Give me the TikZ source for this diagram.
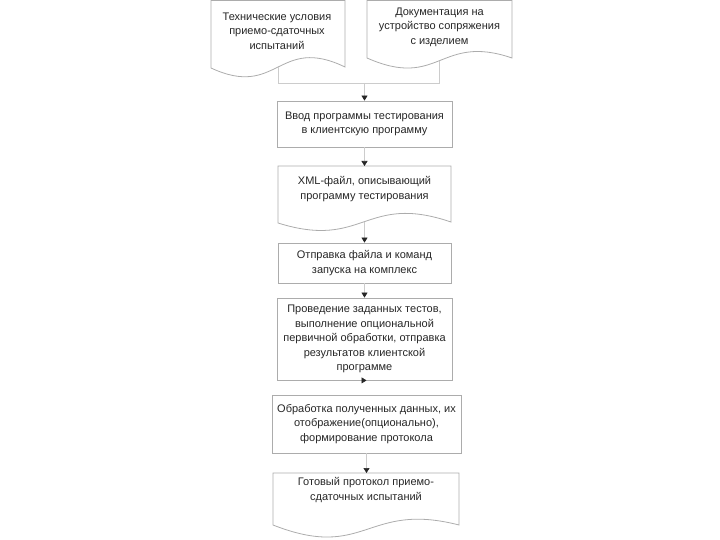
\documentclass[tikz,border=0pt]{standalone}
\usepackage{fontspec}
\setmainfont{Liberation Sans}
\usetikzlibrary{arrows.meta,calc}
\begin{document}
\begin{tikzpicture}[x=1pt,y=-1pt,
  shapeline/.style={draw=gray!65, line width=0.8pt},
  lbl/.style={font=\fontsize{11}{14.5}\selectfont, text=black!85, align=center, inner sep=0pt},
  procbox/.style={lbl, shapeline, rectangle},
  conn/.style={draw=gray!40, line width=0.6pt},
  arr/.style={conn, -{Triangle[width=6pt,length=5pt,color=black!85]}}
]
\useasboundingbox (0,0) rectangle (720,540);

% documents (top)
\draw[shapeline] (211,0.5) -- (345,0.5) -- (345,67) .. controls (278,34.6) and (278,99.2) .. (211,68) -- cycle;
\node[lbl] (tu) at (277,31) {Технические условия\\приемо-сдаточных\\испытаний};
\draw[shapeline] (367,0.5) -- (512,0.5) -- (512,58) .. controls (439.5,33.1) and (439.5,90) .. (367,58) -- cycle;
\node[lbl] (doc) at (439.5,27) {Документация на\\устройство сопряжения\\с изделием};
\coordinate (tuout) at (278,67);
\coordinate (docout) at (439.5,60.7);
\coordinate (join) at (364.5,83);

% boxes
\node[procbox, minimum width=175pt, minimum height=46pt] (b1) at (364.5,124) {Ввод программы тестирования\\в клиентскую программу};

\draw[shapeline] (278,166) -- (451,166) -- (451,222) .. controls (364.5,192.6) and (364.5,250.1) .. (278,223) -- cycle;
\node[lbl] (xml) at (364.5,189) {XML-файл, описывающий\\программу тестирования};
\coordinate (xmlin) at (364.5,166);
\coordinate (xmlout) at (364.5,221.8);

\node[procbox, minimum width=173pt, minimum height=40pt] (b3) at (364.5,263) {Отправка файла и команд\\запуска на комплекс};
\node[procbox, minimum width=175pt, minimum height=82pt] (b4) at (364.5,339) {Проведение заданных тестов,\\выполнение опциональной\\первичной обработки, отправка\\результатов клиентской\\программе};
\node[procbox, minimum width=189pt, minimum height=58pt] (b5) at (366.5,424) {Обработка полученных данных, их\\отображение(опционально),\\формирование протокола};

\draw[shapeline] (273,473) -- (459,473) -- (459,525) .. controls (366,501) and (366,561.5) .. (273,525) -- cycle;
\node[lbl] (fin) at (366,490) {Готовый протокол приемо-\\сдаточных испытаний};
\coordinate (finin) at (366.5,473);

% connectors
\draw[conn] (tuout) -- (tuout |- join) -- (docout |- join) -- (docout);
\draw[arr] (join) -- (b1.north);
\draw[arr] (b1.south) -- (xmlin);
\draw[arr] (xmlout) -- (b3.north);
\draw[arr] (b3.south) -- (b3.south |- b4.north);
\draw[arr] (b4.south) -- (b4.south -| b5.north);
\draw[arr] (b5.south) -- (finin);
\end{tikzpicture}
\end{document}
